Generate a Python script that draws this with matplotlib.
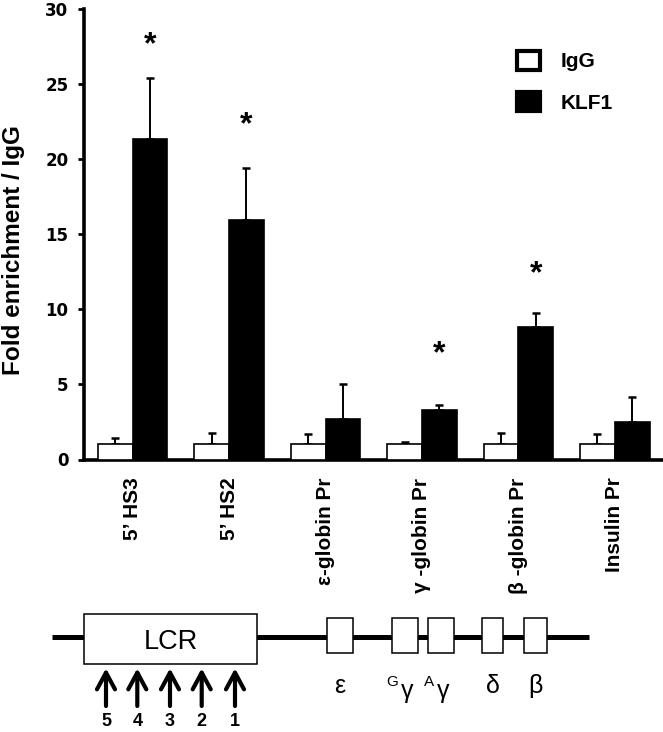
import matplotlib
matplotlib.use('Agg')
import matplotlib.pyplot as plt
from matplotlib.patches import Patch, Rectangle
import numpy as np

plt.rcParams['font.family'] = ['Liberation Sans', 'DejaVu Sans']

# ChIP data
regions = ['5’ HS3', '5’ HS2', 'ε-globin Pr', 'γ -globin Pr', 'β -globin Pr', 'Insulin Pr']
igg = [1.0, 1.0, 1.0, 1.0, 1.0, 1.0]
igg_sd = [0.45, 0.78, 0.68, 0.16, 0.76, 0.70]
klf1 = [21.3, 15.93, 2.69, 3.27, 8.8, 2.47]
klf1_sd = [4.1, 3.44, 2.33, 0.38, 0.97, 1.67]
star_y = [28.1, 22.8, None, 7.6, 12.9, None]
yticks = [0, 5, 10, 15, 20, 25, 30]

# locus schematic (schematic units, left to right)
locus_span = [51.7, 589.3]
lcr_span = [84.3, 256.7]
hs_sites = [106, 137.3, 170, 201.7, 235]
hs_labels = ['5', '4', '3', '2', '1']
gene_start = [326.7, 391.7, 427.7, 481.7, 524.3]
gene_end = [353.3, 417.7, 454.0, 503.3, 546.7]
gene_names = ['ε', 'γ', 'γ', 'δ', 'β']
gene_sup = ['', 'G', 'A', '', '']

W, H = 663, 732
fig = plt.figure(figsize=(W / 100, H / 100), dpi=100)
fig.patch.set_facecolor('white')

ax = fig.add_axes([84 / W, 272.5 / H, 579 / W, 451 / H])
x = np.arange(len(regions))
w = 0.36

ax.bar(x - w / 2, igg, w, color='white', edgecolor='black', linewidth=1.2, zorder=3)
ax.bar(x + w / 2, klf1, w, color='black', edgecolor='black', linewidth=1.2, zorder=3)
ax.errorbar(x - w / 2, igg, yerr=[np.zeros(len(igg)), igg_sd], fmt='none',
            ecolor='black', elinewidth=1.4, capsize=3.2, capthick=1.8, zorder=2)
ax.errorbar(x + w / 2, klf1, yerr=[np.zeros(len(klf1)), klf1_sd], fmt='none',
            ecolor='black', elinewidth=1.4, capsize=3.2, capthick=1.8, zorder=2)

for i, sy in enumerate(star_y):
    if sy is not None:
        ax.text(x[i] + w / 2, sy - 1.1, '*', ha='center', va='baseline',
                fontsize=23, fontweight='bold')

ax.set_xlim(-0.505, 5.5)
ax.set_ylim(0, 30)
ax.set_yticks(yticks)
ax.set_yticklabels([str(t) for t in yticks], fontfamily='DejaVu Sans',
                   fontweight='bold', fontsize=12)
ax.set_xticks(x)
ax.set_xticklabels(regions, rotation=90, fontweight='bold', fontsize=15, va='top')
ax.tick_params(axis='y', direction='out', length=4, width=2, pad=7.3)
ax.tick_params(axis='x', length=0, pad=13)

for s in ['top', 'right']:
    ax.spines[s].set_visible(False)
for s in ['left', 'bottom']:
    ax.spines[s].set_linewidth(2.6)

fig.text(14 / W, 1 - 250 / H, 'Fold enrichment / IgG', rotation=90,
         ha='center', va='center', fontsize=17.5, fontweight='bold')

handles = [Patch(facecolor='white', edgecolor='black', linewidth=3),
           Patch(facecolor='black', edgecolor='black', linewidth=3)]
ax.legend(handles, ['IgG', 'KLF1'], loc='upper left',
          bbox_to_anchor=(516.7 / W, 1 - 51 / H), bbox_transform=fig.transFigure,
          frameon=False, handlelength=1.1, handleheight=1.0,
          handletextpad=1.0, labelspacing=1.0, borderpad=0, borderaxespad=0,
          prop={'weight': 'bold', 'size': 15})

# locus schematic
axd = fig.add_axes([0, 0, 1, 140 / H])
axd.set_xlim(0, W)
axd.set_ylim(H, H - 140)
axd.axis('off')

line_y = 636.8
axd.plot(locus_span, [line_y, line_y], color='black', lw=3.6, solid_capstyle='butt', zorder=1)
axd.add_patch(Rectangle((lcr_span[0], 614.3), lcr_span[1] - lcr_span[0], 49.7,
                        facecolor='white', edgecolor='black', lw=1.1, zorder=2))
axd.text(sum(lcr_span) / 2, 641.7, 'LCR', ha='center', va='center', fontsize=19.5)

for xs, lab in zip(hs_sites, hs_labels):
    axd.annotate('', xy=(xs, 668.3), xytext=(xs, 706),
                 arrowprops=dict(arrowstyle='->, head_length=1.2, head_width=0.65',
                                 lw=3, color='black', mutation_scale=10,
                                 shrinkA=0, shrinkB=0))
    axd.text(xs, 713.5, lab, ha='center', va='top', fontsize=13, fontweight='bold')

for gs, ge, name, sup in zip(gene_start, gene_end, gene_names, gene_sup):
    axd.add_patch(Rectangle((gs, 617.7), ge - gs, 35.6, facecolor='white',
                            edgecolor='black', lw=1.1, zorder=2))
    cx = (gs + ge) / 2
    if sup:
        axd.text(cx + 2, 691, name, ha='center', va='center', fontsize=18)
        axd.text(cx - 7, 682, sup, ha='right', va='center', fontsize=11)
    else:
        axd.text(cx, 686, name, ha='center', va='center', fontsize=18)

fig.savefig('out.png', dpi=100)
